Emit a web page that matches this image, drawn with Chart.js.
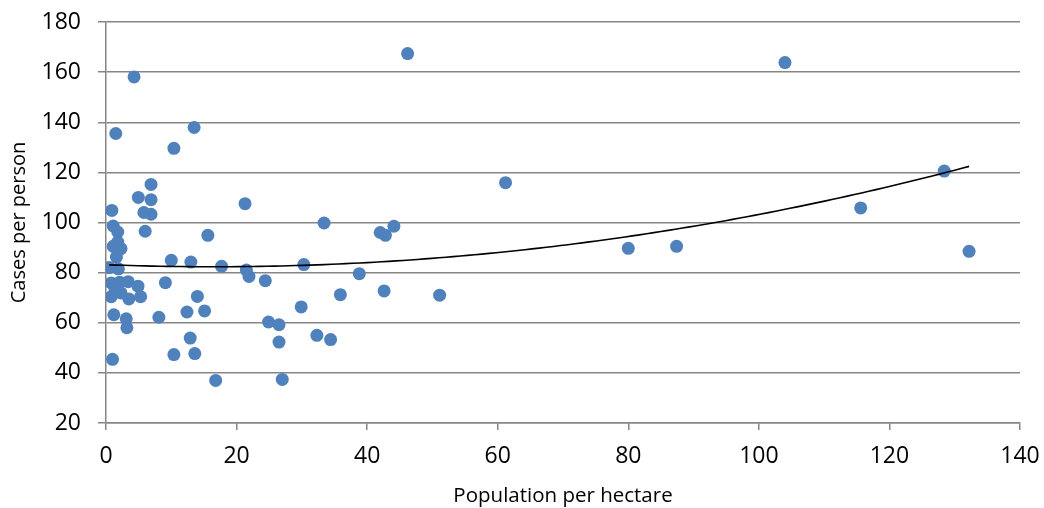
<!DOCTYPE html>
<html>
<head>
<meta charset="utf-8">
<script src="https://cdn.jsdelivr.net/npm/chart.js@4"></script>
<style>
  html, body { margin: 0; padding: 0; background: #fff; }
  #wrap { width: 1044px; height: 508px; }
</style>
</head>
<body>
<div id="wrap"><canvas id="densityChart" width="1044" height="508"></canvas></div>
<script>
// Popolazione per ettaro (asse x)
const populationPerHectare = [
    4.3, 46.2, 104.0, 1.5, 13.5, 10.4, 61.2, 128.4, 115.6, 132.2,
    80.0, 87.4, 21.3, 33.4, 6.9, 4.95, 6.9, 0.9, 5.8, 6.9,
    1.1, 1.8, 6.0, 15.6, 42.0, 42.8, 44.1, 1.8, 1.1, 2.3,
    1.6, 10.0, 13.0, 17.7, 21.5, 21.9, 0.5, 1.9, 24.4, 30.3,
    38.8, 0.8, 2.1, 3.4, 4.9, 1.4, 2.3, 0.8, 3.5, 5.3,
    9.1, 14.0, 29.9, 35.9, 42.6, 51.1, 1.2, 3.1, 3.2, 8.1,
    12.4, 15.1, 24.9, 26.5, 12.9, 26.5, 32.3, 34.4, 10.4, 13.6,
    1.0, 16.8, 27.0
];

// Casi per persona (asse y)
const casesPerPerson = [
    158.1, 167.4, 163.8, 135.5, 137.9, 129.6, 115.9, 120.5, 105.8, 88.5,
    89.7, 90.5, 107.5, 99.8, 115.2, 110.0, 109.1, 104.8, 104.0, 103.3,
    98.6, 96.2, 96.5, 94.9, 96.0, 94.9, 98.5, 92.2, 90.5, 89.6,
    86.2, 84.9, 84.2, 82.5, 81.0, 78.5, 82.0, 81.5, 76.8, 83.2,
    79.6, 75.9, 76.2, 76.4, 74.6, 73.4, 71.9, 70.4, 69.5, 70.4,
    76.0, 70.5, 66.3, 71.2, 72.7, 71.0, 63.2, 61.6, 58.0, 62.2,
    64.3, 64.7, 60.3, 59.2, 53.9, 52.3, 55.0, 53.3, 47.3, 47.7,
    45.4, 37.0, 37.4
];

const xTicks = [0, 20, 40, 60, 80, 100, 120, 140];
const yTicks = [20, 40, 60, 80, 100, 120, 140, 160, 180];

const pointColor = '#4F81BD';
const gridColor = '#868686';

document.addEventListener('DOMContentLoaded', function() {
    initDensityChart();
});

/**
 * Regressione polinomiale di secondo grado (come la linea di tendenza di Excel)
 */
function quadraticFit(xs, ys) {
    const n = xs.length;
    let s = [0, 0, 0, 0, 0];
    let t = [0, 0, 0];
    for (let i = 0; i < n; i++) {
        let p = 1;
        for (let k = 0; k < 5; k++) {
            s[k] += p;
            if (k < 3) t[k] += p * ys[i];
            p *= xs[i];
        }
    }
    // sistema normale 3x3 risolto con Cramer
    const m = [[s[0], s[1], s[2]], [s[1], s[2], s[3]], [s[2], s[3], s[4]]];
    const det = function(a) {
        return a[0][0] * (a[1][1] * a[2][2] - a[1][2] * a[2][1])
             - a[0][1] * (a[1][0] * a[2][2] - a[1][2] * a[2][0])
             + a[0][2] * (a[1][0] * a[2][1] - a[1][1] * a[2][0]);
    };
    const d = det(m);
    const coef = [];
    for (let c = 0; c < 3; c++) {
        const mc = m.map(function(row, r) {
            return row.map(function(v, j) { return j === c ? t[r] : v; });
        });
        coef.push(det(mc) / d);
    }
    return coef;
}

function initDensityChart() {
    const points = populationPerHectare.map(function(x, i) {
        return { x: x, y: casesPerPerson[i] };
    });

    const coef = quadraticFit(populationPerHectare, casesPerPerson);
    const xMin = Math.min.apply(null, populationPerHectare);
    const xMax = Math.max.apply(null, populationPerHectare);
    const trend = [];
    const steps = 120;
    for (let i = 0; i <= steps; i++) {
        const x = xMin + (xMax - xMin) * i / steps;
        trend.push({ x: x, y: coef[0] + coef[1] * x + coef[2] * x * x });
    }

    const font = { family: "'Open Sans', 'Noto Sans', sans-serif" };

    const ctx = document.getElementById('densityChart').getContext('2d');
    new Chart(ctx, {
        type: 'scatter',
        data: {
            datasets: [
                {
                    label: 'Tendenza',
                    data: trend,
                    showLine: true,
                    borderColor: '#000000',
                    borderWidth: 1.6,
                    pointRadius: 0,
                    tension: 0,
                    order: 0
                },
                {
                    label: 'Casi',
                    data: points,
                    backgroundColor: pointColor,
                    borderColor: pointColor,
                    borderWidth: 0,
                    pointRadius: 6.5,
                    order: 1
                }
            ]
        },
        options: {
            responsive: false,
            animation: false,
            layout: {
                padding: { top: 22, right: 24, left: 0, bottom: 0 }
            },
            plugins: {
                legend: { display: false },
                tooltip: { enabled: false }
            },
            scales: {
                x: {
                    type: 'linear',
                    min: 0,
                    max: 140,
                    afterBuildTicks: function(axis) {
                        axis.ticks = xTicks.map(function(v) { return { value: v }; });
                    },
                    afterFit: function(axis) {
                        axis.height = 85;
                        axis.paddingLeft = 0;
                        axis.paddingRight = 0;
                    },
                    grid: {
                        drawOnChartArea: false,
                        drawTicks: true,
                        tickLength: 7,
                        color: gridColor,
                        lineWidth: 1.5
                    },
                    border: { color: gridColor, width: 1.5 },
                    ticks: {
                        color: '#000',
                        padding: 13,
                        font: Object.assign({ size: 23 }, font)
                    },
                    title: {
                        display: true,
                        text: 'Population per hectare',
                        color: '#000',
                        padding: { top: 0, bottom: 0 },
                        font: Object.assign({ size: 20.5 }, font)
                    }
                },
                y: {
                    type: 'linear',
                    min: 20,
                    max: 180,
                    afterBuildTicks: function(axis) {
                        axis.ticks = yTicks.map(function(v) { return { value: v }; });
                    },
                    afterFit: function(axis) {
                        axis.width = 106;
                        axis.paddingTop = 0;
                        axis.paddingBottom = 0;
                    },
                    grid: {
                        drawTicks: true,
                        tickLength: 8,
                        color: gridColor,
                        lineWidth: 1.5
                    },
                    border: { color: gridColor, width: 1.5 },
                    ticks: {
                        color: '#000',
                        padding: 17,
                        font: Object.assign({ size: 23 }, font)
                    },
                    title: {
                        display: true,
                        text: 'Cases per person',
                        color: '#000',
                        padding: { top: 7, bottom: 0 },
                        font: Object.assign({ size: 20 }, font)
                    }
                }
            }
        }
    });
}
</script>
</body>
</html>
